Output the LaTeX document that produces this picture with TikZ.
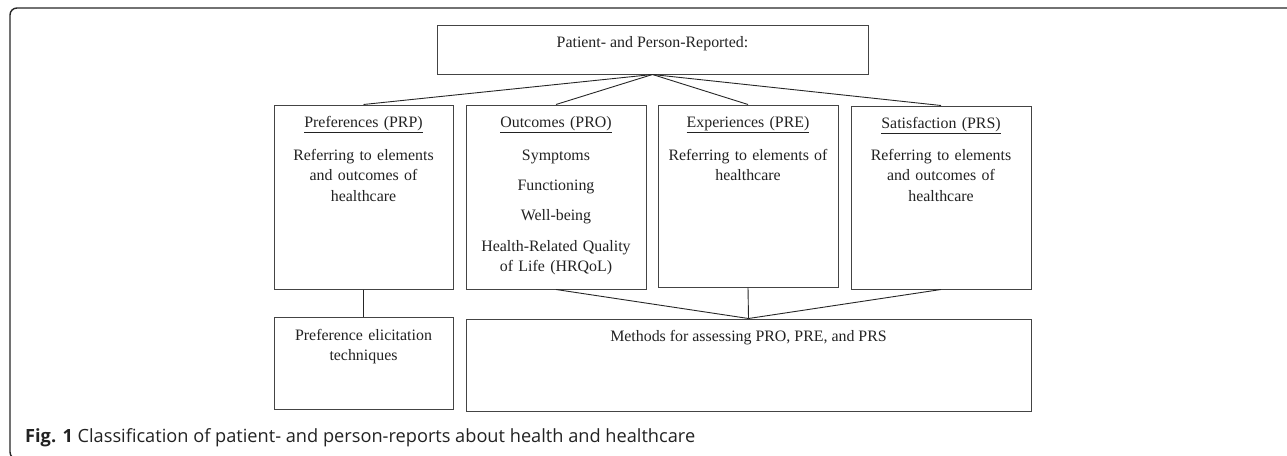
\documentclass[tikz,border=0pt]{standalone}
\usepackage{fontspec}
\setmainfont{Liberation Serif}
\newfontfamily\capfont{Open Sans}
\definecolor{boxline}{HTML}{444444}
\definecolor{txt}{HTML}{222222}
\begin{document}
\begin{tikzpicture}[x=1pt,y=-1pt,
  box/.style={draw=boxline, line width=1pt, inner sep=0pt},
  conn/.style={draw=black!85, line width=0.9pt},
  txtnode/.style={inner sep=0pt, anchor=base, align=center, text=txt, font=\fontsize{15.9}{20.5}\selectfont},
]
\useasboundingbox (0,0) rectangle (1287,455);
\begin{scope}
\clip (0,0) rectangle (1287,455);
\draw[line width=1.4pt, black!85, rounded corners=7pt] (10,8) rectangle (1400,459);
\end{scope}
% boxes
\node[box, minimum width=431pt, minimum height=49pt] (top) at (652.5,49.5) {};
\node[box, minimum width=179pt, minimum height=184pt] (prp) at (363.5,197) {};
\node[box, minimum width=180pt, minimum height=184pt] (pro) at (556,197) {};
\node[box, minimum width=180pt, minimum height=182pt] (pre) at (748,196) {};
\node[box, minimum width=180pt, minimum height=183pt] (prs) at (941,197.5) {};
\node[box, minimum width=179pt, minimum height=92pt] (pet) at (363.5,363) {};
\node[box, minimum width=565pt, minimum height=92pt] (met) at (748.5,365) {};
% connectors
\draw[conn] (top.south) -- (prp.north);
\draw[conn] (top.south) -- (pro.north);
\draw[conn] (top.south) -- (pre.north);
\draw[conn] (top.south) -- (prs.north);
\draw[conn] (prp.south) -- (pet.north);
\draw[conn] (pro.south) -- (met.north);
\draw[conn] (pre.south) -- (met.north);
\draw[conn] (prs.south) -- (met.north);
% texts
\node[txtnode] (ttop) at (652.5,47) {Patient- and Person-Reported:};
\node[txtnode, text width=178pt] (tprp) at (363.5,127) {\underline{Preferences (PRP)}\\[12.5pt]Referring to elements\\and outcomes of\\healthcare};
\node[txtnode, text width=178pt] (tpro) at (556,127) {\underline{Outcomes (PRO)}\\[12.5pt]Symptoms\\[9.5pt]Functioning\\[9.5pt]Well-being\\[10.5pt]Health-Related Quality\\of Life (HRQoL)};
\node[txtnode, text width=178pt] (tpre) at (748,127) {\underline{Experiences (PRE)}\\[12.5pt]Referring to elements of\\healthcare};
\node[txtnode, text width=178pt] (tprs) at (941,128) {\underline{Satisfaction (PRS)}\\[11.5pt]Referring to elements\\and outcomes of\\healthcare};
\node[txtnode, text width=178pt] (tpet) at (363.5,340) {Preference elicitation\\techniques};
\node[txtnode] (tmet) at (748.5,341) {Methods for assessing PRO, PRE, and PRS};
% caption
\node[inner sep=0pt, anchor=base west, text=txt, font=\capfont\fontsize{18.2}{22}\selectfont] (cap) at (25,442) {\textbf{Fig. 1} Classification of patient- and person-reports about health and healthcare};
\end{tikzpicture}
\end{document}
